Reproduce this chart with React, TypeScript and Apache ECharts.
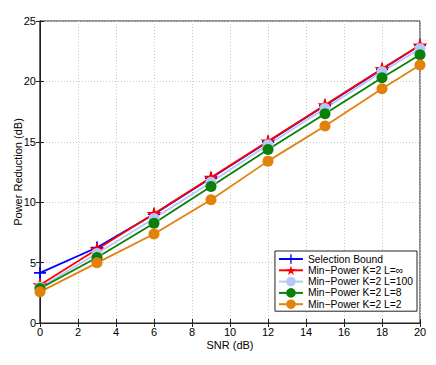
import React, { useEffect, useRef } from "react";
import * as echarts from "echarts";

const snr = [0, 3, 6, 9, 12, 15, 18, 20];
const selectionBound = [4.15, 6.25, 9.0, 12.0, 15.0, 18.0, 21.0, 23.0];
const minPowerInf = [3.15, 6.1, 9.05, 12.05, 15.05, 18.05, 21.05, 23.0];
const minPower100 = [2.95, 5.75, 8.65, 11.65, 14.75, 17.75, 20.8, 22.7];
const minPower8 = [2.85, 5.42, 8.25, 11.3, 14.37, 17.33, 20.3, 22.2];
const minPower2 = [2.58, 4.98, 7.37, 10.2, 13.4, 16.3, 19.4, 21.35];

const names = [
  "Selection Bound",
  "Min\u2212Power K=2 L=\u221e",
  "Min\u2212Power K=2 L=100",
  "Min\u2212Power K=2 L=8",
  "Min\u2212Power K=2 L=2",
];

const FONT = "Liberation Sans, Arial, Helvetica, sans-serif";

const plusPath = "path://M4.3,0H5.7V4.3H10V5.7H5.7V10H4.3V5.7H0V4.3H4.3Z";
const starPath =
  "path://M50,0L61.8,35.3L98.1,35.3L68.8,56.9L79.4,92.3L50,70.7L20.6,92.3L31.2,56.9L1.9,35.3L38.2,35.3Z";

export default function App() {
  const ref = useRef<HTMLDivElement>(null);
  useEffect(() => {
    if (!ref.current) return;
    document.body.style.margin = "0";
    const chart = echarts.init(ref.current, null, { renderer: "svg" });
    const pairs = (arr: number[]) => snr.map((x, i) => [x, arr[i]]);
    const mk = (
      name: string,
      data: number[],
      color: string,
      symbol: string,
      size: number
    ) => ({
      name,
      type: "line",
      data: pairs(data),
      symbol,
      symbolSize: size,
      showSymbol: true,
      lineStyle: { color, width: 1.8 },
      itemStyle: { color, borderWidth: 0 },
      emphasis: { disabled: true },
    });
    chart.setOption({
      animation: false,
      textStyle: { fontFamily: FONT },
      grid: {
        left: 40,
        right: 16,
        top: 21,
        bottom: 42,
        show: true,
        borderColor: "#222",
        borderWidth: 1,
        containLabel: false,
        outerBoundsMode: "none",
      },
      legend: {
        orient: "vertical",
        right: 19,
        top: 251,
        padding: [3, 4, 2, 3],
        itemGap: 1.3,
        itemWidth: 24,
        itemHeight: 12,
        backgroundColor: "#fff",
        borderColor: "#222",
        borderWidth: 1,
        borderRadius: 0,
        textStyle: { fontSize: 10.3, color: "#000", fontFamily: FONT },
        data: names,
        selectedMode: false,
      },
      xAxis: [
        {
          type: "value",
          min: 0,
          max: 20,
          interval: 2,
          name: "SNR (dB)",
          nameLocation: "middle",
          nameGap: 16,
          nameMoveOverlap: false,
          nameTextStyle: { fontSize: 11, color: "#000" },
          axisLine: { show: true, lineStyle: { color: "#222" } },
          axisTick: { show: true, inside: true, length: 4, lineStyle: { color: "#222" } },
          axisLabel: { fontSize: 11, color: "#000", margin: 3 },
          splitLine: { show: true, lineStyle: { color: "#c8c8c8", type: [1, 2] } },
        },
        {
          type: "value",
          position: "top",
          min: 0,
          max: 20,
          interval: 2,
          axisLine: { show: true, lineStyle: { color: "#222" } },
          axisTick: { show: true, inside: true, length: 4, lineStyle: { color: "#222" } },
          axisLabel: { show: false },
          splitLine: { show: false },
        },
      ],
      yAxis: [
        {
          type: "value",
          min: 0,
          max: 25,
          interval: 5,
          name: "Power Reduction (dB)",
          nameLocation: "middle",
          nameGap: 17,
          nameMoveOverlap: false,
          nameTextStyle: { fontSize: 11, color: "#000" },
          axisLine: { show: true, lineStyle: { color: "#555", width: 1.5 } },
          axisTick: { show: true, inside: true, length: 4, lineStyle: { color: "#222" } },
          axisLabel: { fontSize: 11, color: "#000", margin: 4 },
          splitLine: { show: true, lineStyle: { color: "#c8c8c8", type: [1, 2] } },
        },
        {
          type: "value",
          position: "right",
          min: 0,
          max: 25,
          interval: 5,
          axisLine: { show: true, lineStyle: { color: "#222" } },
          axisTick: { show: true, inside: true, length: 4, lineStyle: { color: "#222" } },
          axisLabel: { show: false },
          splitLine: { show: false },
        },
      ],
      series: [
        mk(names[0], selectionBound, "#0000ff", plusPath, 12),
        mk(names[1], minPowerInf, "#ff0000", starPath, 15),
        mk(names[2], minPower100, "#b4c8f4", "circle", 11),
        mk(names[3], minPower8, "#0a800a", "circle", 11),
        mk(names[4], minPower2, "#e0820c", "circle", 11),
      ],
    });
    return () => chart.dispose();
  }, []);
  return <div ref={ref} style={{ width: 436, height: 365, background: "#fff" }} />;
}
